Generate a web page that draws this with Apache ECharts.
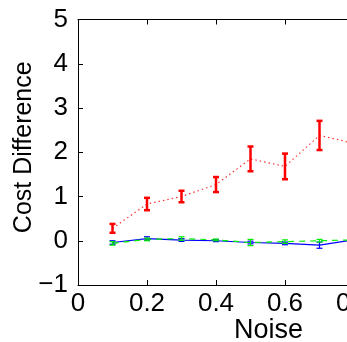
<!DOCTYPE html>
<html><head><meta charset="utf-8">
<script src="https://cdn.jsdelivr.net/npm/echarts@6/dist/echarts.min.js"></script>
<style>html,body{margin:0;padding:0;background:#fff}#c{width:347px;height:342px}</style>
</head><body><div id="c"></div>
<script>
var noise = [0.1, 0.2, 0.3, 0.4, 0.5, 0.6, 0.7, 0.8];
var redMean = [0.28, 0.83, 1.00, 1.27, 1.85, 1.68, 2.38, 2.20];
var redErr  = [0.10, 0.14, 0.13, 0.17, 0.28, 0.29, 0.33, 0.30];
var blueMean = [-0.04, 0.05, 0.015, 0.0, -0.04, -0.06, -0.10, 0.02];
var blueErr  = [0.04, 0.04, 0.03, 0.02, 0.03, 0.03, 0.07, 0.04];
var greenMean = [-0.06, 0.03, 0.05, 0.02, -0.04, -0.02, 0.0, 0.02];
var greenErr  = [0.04, 0.03, 0.04, 0.02, 0.07, 0.04, 0.03, 0.03];
var xTicks = [0, 0.2, 0.4, 0.6, 0.8, 1];
var yTicks = [-1, 0, 1, 2, 3, 4, 5];

var FONT = 'Liberation Sans';
function pairs(xs, ys){ return xs.map(function(x,i){return [x, ys[i]];}); }
function errData(xs, m, e){ return xs.map(function(x,i){return [x, m[i]-e[i], m[i]+e[i]];}); }
function errSeries(name, xs, m, e, color, lw, cap){
  return {
    type:'custom', name:name, data: errData(xs,m,e), z:3, clip:false,
    renderItem: function(params, api){
      var x = api.value(0);
      var lo = api.coord([x, api.value(1)]);
      var hi = api.coord([x, api.value(2)]);
      var st = {stroke:color, lineWidth:lw};
      return {type:'group', children:[
        {type:'line', shape:{x1:lo[0],y1:lo[1],x2:hi[0],y2:hi[1]}, style:st},
        {type:'line', shape:{x1:lo[0]-cap,y1:lo[1],x2:lo[0]+cap,y2:lo[1]}, style:st},
        {type:'line', shape:{x1:hi[0]-cap,y1:hi[1],x2:hi[0]+cap,y2:hi[1]}, style:st}
      ]};
    }
  };
}

var chart = echarts.init(document.getElementById('c'), null, {renderer:'canvas'});
chart.setOption({
  animation:false,
  backgroundColor:'#fff',
  grid:{left:78, top:19.5, right:-76, bottom:57, containLabel:false, outerBoundsMode:'none'},
  xAxis:[{
    type:'value', min:xTicks[0], max:xTicks[xTicks.length-1], interval:0.2,
    axisLine:{show:true, onZero:false, lineStyle:{color:'#000', width:1}},
    axisTick:{show:true, inside:true, length:5, lineStyle:{color:'#000'}},
    splitLine:{show:false},
    axisLabel:{color:'#000', fontFamily:FONT, fontSize:26, margin:6, showMaxLabel:true, showMinLabel:true,
      hideOverlap:false,
      formatter:function(v){return String(+v.toFixed(1));}}
  },{
    type:'value', position:'top', min:xTicks[0], max:xTicks[xTicks.length-1], interval:0.2,
    axisLine:{show:true, onZero:false, lineStyle:{color:'#000', width:1}},
    axisTick:{show:true, inside:true, length:5, lineStyle:{color:'#000'}},
    axisLabel:{show:false}, splitLine:{show:false}
  }],
  yAxis:[{
    type:'value', min:yTicks[0], max:yTicks[yTicks.length-1], interval:1,
    name:'Cost Difference', nameLocation:'middle', nameGap:41, nameMoveOverlap:false,
    nameTextStyle:{color:'#000', fontFamily:FONT, fontSize:25, padding:[0,0,0,10]},
    axisLine:{show:true, onZero:false, lineStyle:{color:'#000', width:1}},
    axisTick:{show:true, inside:true, length:5, lineStyle:{color:'#000'}},
    splitLine:{show:false},
    axisLabel:{color:'#000', fontFamily:FONT, fontSize:26, margin:10, hideOverlap:false,
      formatter:function(v){return String(v).replace('-', '\u2212');}}
  }],
  graphic:[{type:'text', left:234, top:317, style:{text:'Noise', fill:'#000', font:'27px "Liberation Sans"'}}],
  series:[
    {type:'line', data:pairs(noise, redMean), showSymbol:false, symbol:'none', z:2,
      lineStyle:{color:'#ff3030', width:1.2, type:[1.5,3]}},
    errSeries('redErr', noise, redMean, redErr, '#ff0000', 2.5, 3),
    {type:'line', data:pairs(noise, blueMean), showSymbol:false, symbol:'none', z:2,
      lineStyle:{color:'#0000ff', width:1.2}},
    errSeries('blueErr', noise, blueMean, blueErr, '#0000ff', 1.2, 3),
    {type:'line', data:pairs(noise, greenMean), showSymbol:false, symbol:'none', z:2,
      lineStyle:{color:'#00ee00', width:1.2, type:[6,5]}},
    errSeries('greenErr', noise, greenMean, greenErr, '#00ee00', 1.2, 3)
  ]
});
</script></body></html>
